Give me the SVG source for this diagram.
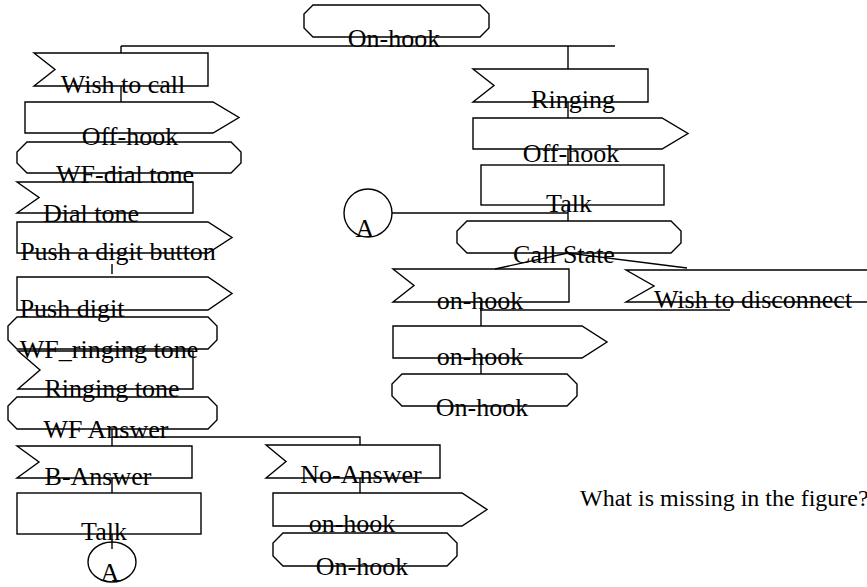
<svg xmlns="http://www.w3.org/2000/svg" width="867" height="587" viewBox="0 0 867 587">
<style>
.s{fill:none;stroke:#000;stroke-width:1.4}
.c{fill:none;stroke:#000;stroke-width:1.4}
text{font-family:"Liberation Serif","Times New Roman",serif;font-size:26px;fill:#000;text-anchor:middle}
</style>
<rect width="867" height="587" fill="#fff"/>
<g id="connectors" class="c">
<path d="M121,46 H615"/>
<path d="M121,46 V53"/>
<path d="M568,46 V69"/>
<path d="M121,86 V102"/>
<path d="M568,102 V118"/>
<path d="M568,149 V165"/>
<path d="M568,205 V221"/>
<path d="M392,213 H568"/>
<path d="M568,253 L495,269"/>
<path d="M568,253 L687,268"/>
<path d="M480,310 H730"/>
<path d="M481,302 V326"/>
<path d="M481,358 V374"/>
<path d="M112,264 V274"/>
<path d="M112,429 V446"/>
<path d="M112,437 H360 V445"/>
<path d="M112,478 V493"/>
<path d="M112,534 V549"/>
<path d="M360,478 V493"/>
</g>
<g id="n_onhook_top"><path class="s" d="M313,5 H480 L489,14 V28 L480,37 H313 L304,28 V14 Z"/><text x="394" y="47">On-hook</text></g>
<g id="n_wish_call"><path class="s" d="M34,53 H208 V86 H34 L55,69.5 Z"/><text x="123" y="93">Wish to call</text></g>
<g id="n_offhook_l"><path class="s" d="M25,102 H213 L239,117.5 L213,133 H25 Z"/><text x="130" y="145">Off-hook</text></g>
<g id="n_wf_dial"><path class="s" d="M27,142 H231 L241,152 V163 L231,173 H27 L17,163 V152 Z"/><text x="125" y="183">WF-dial tone</text></g>
<g id="n_dial_tone"><path class="s" d="M17,182 H193 V213 H17 L39,197.5 Z"/><text x="91" y="222">Dial tone</text></g>
<g id="n_push_button"><path class="s" d="M17,222 H208 L232,237.5 L208,253 H17 Z"/><text x="118" y="260">Push a digit button</text></g>
<g id="n_push_digit"><path class="s" d="M17,277 H208 L232,293.5 L208,310 H17 Z"/><text x="72" y="317">Push digit</text></g>
<g id="n_wf_ringing"><path class="s" d="M17,317 H208 L217,326 V340 L208,349 H17 L8,340 V326 Z"/><text x="109" y="358">WF_ringing tone</text></g>
<g id="n_ringing_tone"><path class="s" d="M18,351 H193 V389 H18 L40,370 Z"/><text x="112" y="397">Ringing tone</text></g>
<g id="n_wf_answer"><path class="s" d="M17,397 H208 L217,406 V420 L208,429 H17 L8,420 V406 Z"/><text x="106" y="438">WF Answer</text></g>
<g id="n_b_answer"><path class="s" d="M17,446 H192 V478 H17 L39,462 Z"/><text x="98" y="485">B-Answer</text></g>
<g id="n_talk_l"><rect class="s" x="17" y="493" width="184" height="41"/><text x="104" y="540">Talk</text></g>
<g id="n_a_l"><ellipse class="s" cx="112" cy="562" rx="24" ry="20"/><text x="110" y="581">A</text></g>
<g id="n_no_answer"><path class="s" d="M266,445 H440 V478 H266 L286,461.5 Z"/><text x="361" y="483">No-Answer</text></g>
<g id="n_onhook_send_b"><path class="s" d="M273,493 H462 L487,509.5 L462,526 H273 Z"/><text x="352" y="532">on-hook</text></g>
<g id="n_onhook_end_b"><path class="s" d="M283,533 H447 L457,543 V556 L447,566 H283 L273,556 V543 Z"/><text x="362" y="575">On-hook</text></g>
<g id="n_ringing"><path class="s" d="M473,69 H648 V102 H473 L494,85.5 Z"/><text x="573" y="108">Ringing</text></g>
<g id="n_offhook_r"><path class="s" d="M473,118 H662 L688,133.5 L662,149 H473 Z"/><text x="571" y="162">Off-hook</text></g>
<g id="n_talk_r"><rect class="s" x="481" y="165" width="183" height="40"/><text x="569" y="212">Talk</text></g>
<g id="n_a_r"><circle class="s" cx="368" cy="213" r="24"/><text x="365" y="237">A</text></g>
<g id="n_call_state"><path class="s" d="M467,221 H671 L681,231 V243 L671,253 H467 L457,243 V231 Z"/><text x="564" y="263">Call State</text></g>
<g id="n_onhook_recv"><path class="s" d="M393,269 H569 V302 H393 L414,285.5 Z"/><text x="480" y="309">on-hook</text></g>
<g id="n_wish_disc"><path class="s" d="M626,270 H880 V302 H626 L654,286 Z"/><text x="753" y="308">Wish to disconnect</text></g>
<g id="n_onhook_send_r"><path class="s" d="M393,326 H582 L607,342 L582,358 H393 Z"/><text x="480" y="365">on-hook</text></g>
<g id="n_onhook_end_r"><path class="s" d="M402,374 H567 L577,384 V396 L567,406 H402 L392,396 V384 Z"/><text x="482" y="416">On-hook</text></g>
<text x="580" y="506" style="text-anchor:start;font-size:24px">What is missing in the figure?</text>
</svg>
